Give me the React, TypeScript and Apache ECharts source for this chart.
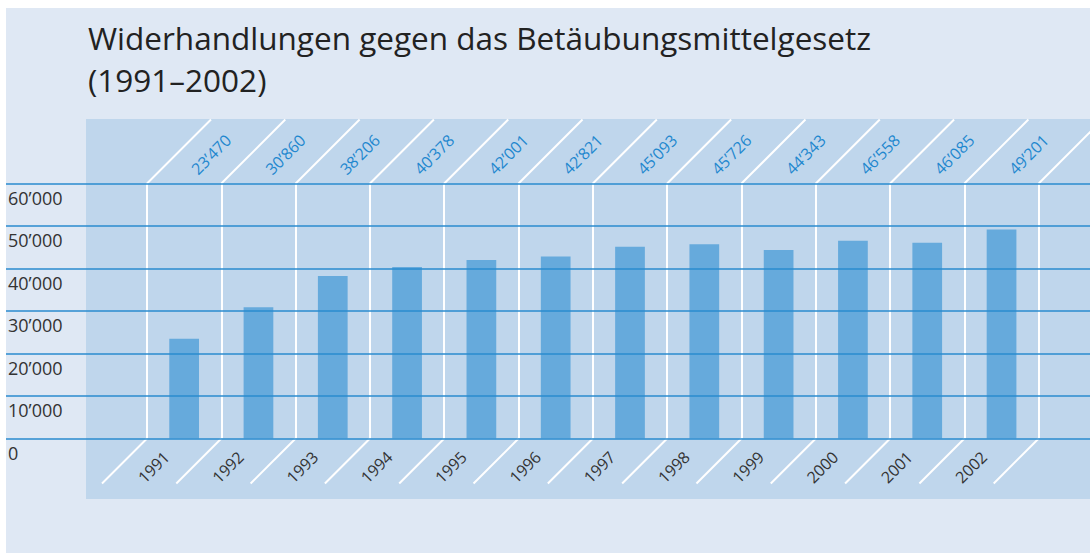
import React, { useEffect, useRef } from "react";
import * as echarts from "echarts";

const years = ["1991", "1992", "1993", "1994", "1995", "1996", "1997", "1998", "1999", "2000", "2001", "2002"];
const values = [23470, 30860, 38206, 40378, 42001, 42821, 45093, 45726, 44343, 46558, 46085, 49201];
const yMin = 0;
const yMax = 60000;
const yStep = 10000;
const titleText = "Widerhandlungen gegen das Betäubungsmittelgesetz\n(1991–2002)";

const fmt = (v: number) => String(v).replace(/\B(?=(\d{3})+(?!\d))/g, "’");
const FONT = "'Open Sans', 'Noto Sans', sans-serif";

export default function App() {
  const ref = useRef<HTMLDivElement>(null);
  useEffect(() => {
    document.body.style.margin = "0";
    const chart = echarts.init(ref.current!, null, { renderer: "svg" });
    const gridTop = 183.5;
    const gridBottom = 553 - 438.5;
    chart.setOption({
      animation: false,
      backgroundColor: "#ffffff",
      textStyle: { fontFamily: FONT },
      title: {
        text: titleText,
        left: 83,
        top: 11,
        textStyle: { fontFamily: FONT, fontSize: 31.5, fontWeight: "normal", color: "#222222", lineHeight: 42 },
      },
      graphic: [
        { type: "rect", z: -10, silent: true, shape: { x: 6, y: 8, width: 1084, height: 545 }, style: { fill: "#dfe8f4" } },
        { type: "rect", z: -9, silent: true, shape: { x: 86, y: 119, width: 1004, height: 380 }, style: { fill: "#bfd6ec" } },
      ],
      grid: [
        { left: 147, right: 51.3, top: gridTop, bottom: gridBottom },
        { left: 6, right: 0, top: gridTop, bottom: gridBottom },
      ],
      xAxis: [
        {
          type: "category",
          gridIndex: 0,
          data: years,
          position: "bottom",
          axisLine: { show: false },
          axisTick: { show: false },
          splitLine: { show: true, lineStyle: { color: "#ffffff", width: 2 } },
          axisLabel: { rotate: 45, color: "#333333", fontSize: 16, margin: -2, padding: [0, 25, 0, 0], fontFamily: FONT },
          z: 1,
        },
        {
          type: "category",
          gridIndex: 0,
          data: years,
          position: "top",
          axisLine: { show: false },
          axisTick: { show: false },
          splitLine: { show: false },
          axisLabel: {
            rotate: -45,
            color: "#1f88cf",
            fontSize: 16,
            margin: 2,
            padding: [0, 0, 0, 14],
            fontFamily: FONT,
            formatter: (_v: string, i: number) => fmt(values[i]),
          },
        },
        { type: "value", gridIndex: 1, min: 0, max: 1, show: false },
      ],
      yAxis: [
        { type: "value", gridIndex: 0, min: yMin, max: yMax, interval: yStep, show: false },
        {
          type: "value",
          gridIndex: 1,
          min: yMin,
          max: yMax,
          interval: yStep,
          axisLine: { show: false },
          axisTick: { show: false },
          splitLine: { show: true, lineStyle: { color: "#2a8bcf", width: 1.5 } },
          axisLabel: {
            inside: true,
            align: "left",
            verticalAlign: "top",
            margin: 2,
            padding: [5, 0, 0, 0],
            color: "#333333",
            fontSize: 18,
            fontFamily: FONT,
            formatter: (v: number) => fmt(v),
          },
          z: 3,
        },
      ],
      series: [
        {
          type: "bar",
          xAxisIndex: 0,
          yAxisIndex: 0,
          data: values,
          barWidth: "40%",
          itemStyle: { color: "#66aadc" },
          z: 2,
        },
        {
          type: "custom",
          xAxisIndex: 0,
          yAxisIndex: 0,
          clip: false,
          silent: true,
          data: values.map((v, i) => [i, v]),
          renderItem: (params: any, api: any) => {
            const idx = api.value(0);
            const base = api.coord([idx, yMin]);
            const top = api.coord([idx, yMax]);
            const bw = api.size([1, 0])[0];
            const edges = [base[0] - bw / 2];
            if (idx === values.length - 1) edges.push(base[0] + bw / 2);
            const children: any[] = [];
            edges.forEach((x) => {
              children.push({
                type: "line",
                shape: { x1: x, y1: top[1], x2: x + 64, y2: top[1] - 64 },
                style: { stroke: "#ffffff", lineWidth: 2 },
              });
              children.push({
                type: "line",
                shape: { x1: x, y1: base[1], x2: x - 45, y2: base[1] + 45 },
                style: { stroke: "#ffffff", lineWidth: 2 },
              });
            });
            return { type: "group", children };
          },
          z: 1,
        },
      ],
    });
    return () => chart.dispose();
  }, []);
  return <div ref={ref} style={{ width: 1090, height: 553 }} />;
}
